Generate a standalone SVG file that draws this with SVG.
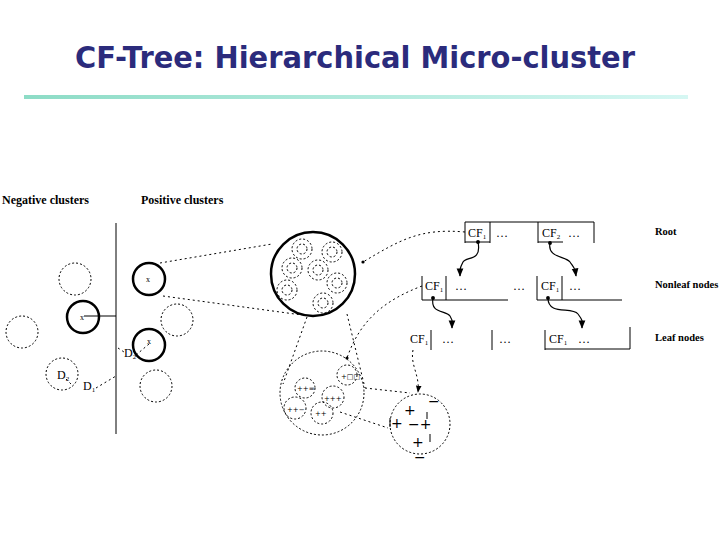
<svg xmlns="http://www.w3.org/2000/svg" width="720" height="540" viewBox="0 0 720 540">
<defs>
<linearGradient id="rule" x1="0" y1="0" x2="1" y2="0">
<stop offset="0" stop-color="#8ddcc6"/>
<stop offset="1" stop-color="#d6f7f3"/>
</linearGradient>
<marker id="ah" viewBox="0 0 10 10" refX="9" refY="5" markerWidth="7" markerHeight="7" orient="auto">
<path d="M0,1 L10,5 L0,9 Z" fill="#000"/>
</marker>
<marker id="dot" viewBox="0 0 10 10" refX="5" refY="5" markerWidth="4" markerHeight="4">
<circle cx="5" cy="5" r="4" fill="#000"/>
</marker>
</defs>
<style>
.title{font-family:"DejaVu Sans",sans-serif;font-weight:bold;font-size:31px;fill:#2b2b7c}
.lbl{font-family:"Liberation Serif",serif;font-weight:bold;font-size:12px;fill:#000}
.rl{font-family:"Liberation Serif",serif;font-weight:bold;font-size:10.5px;fill:#000}
.cf{font-family:"Liberation Serif",serif;font-size:12px;fill:#000}
.sub{font-family:"Liberation Serif",serif;font-size:8px;fill:#000}
.pm{font-family:"DejaVu Sans",sans-serif;font-size:14px;fill:#000}
.spm{font-family:"DejaVu Sans",sans-serif;font-size:7px;fill:#000}
.dc{fill:none;stroke:#000;stroke-width:1;stroke-dasharray:2,2}
.bc{fill:none;stroke:#000;stroke-width:2.5}
.ln{fill:none;stroke:#000;stroke-width:1}
.dl{fill:none;stroke:#000;stroke-width:1;stroke-dasharray:2,3}
.wv{fill:none;stroke:#000;stroke-width:1.2}
</style>
<rect width="720" height="540" fill="#fff"/>
<text class="title" x="355" y="68" text-anchor="middle" textLength="560" lengthAdjust="spacingAndGlyphs">CF-Tree: Hierarchical Micro-cluster</text>
<rect x="24" y="95" width="664" height="4" fill="url(#rule)"/>

<g id="clusters-panel">
<text class="lbl" x="2" y="204">Negative clusters</text>
<text class="lbl" x="141" y="204">Positive clusters</text>
<line class="ln" x1="116" y1="223" x2="116" y2="434"/>
<circle class="dc" cx="75" cy="279" r="16"/>
<circle class="dc" cx="22" cy="332" r="16"/>
<circle class="dc" cx="62" cy="374" r="16"/>
<circle class="bc" cx="83" cy="317" r="16"/>
<text class="sub" x="80" y="320">x</text>
<line class="ln" x1="84" y1="316" x2="116" y2="316"/>
<circle class="bc" cx="149" cy="279" r="16"/>
<text class="sub" x="146" y="282">x</text>
<circle class="bc" cx="149" cy="345" r="16"/>
<text class="sub" x="147" y="344">x</text>
<circle class="dc" cx="177" cy="320" r="16"/>
<circle class="dc" cx="156" cy="386" r="16"/>
<text class="cf" x="57" y="379">D<tspan font-size="7" dy="2">2</tspan></text>
<line class="dl" x1="66" y1="379" x2="72" y2="385"/>
<text class="cf" x="83" y="390">D<tspan font-size="7" dy="2">1</tspan></text>
<line class="dl" x1="96" y1="388" x2="116" y2="376"/>
<text class="cf" x="124" y="357">D<tspan font-size="7" dy="2">2</tspan></text>
<line class="dl" x1="118" y1="348" x2="124" y2="352"/>
<line class="dl" x1="136" y1="355" x2="149" y2="344"/>
</g>

<g id="connectors">
<path class="dl" d="M160,263 L272,244"/>
<path class="dl" d="M163,296 L302,315"/>
<path class="dl" d="M307,317 L283,384"/>
<path class="dl" d="M347,314 L365,388"/>
<path class="dl" d="M465,232 C420,228 400,240 363,262" marker-end="url(#dot)"/>
<path class="dl" d="M422,286 C385,300 360,320 347,358" marker-end="url(#dot)"/>
<path class="dl" d="M365,388 L410,393"/>
<path class="dl" d="M340,412 L388,428"/>
<path class="dl" d="M413,350 C410,365 420,375 418,392" marker-end="url(#ah)"/>
<path class="wv" d="M478,242 C482,262 466,256 463,262 S460,268 460,276" marker-start="url(#dot)" marker-end="url(#ah)"/>
<path class="wv" d="M550,243 C547,258 566,256 570,262 S575,268 576,276" marker-start="url(#dot)" marker-end="url(#ah)"/>
<path class="wv" d="M433,298 C430,314 446,310 450,316 S452,322 452,328" marker-start="url(#dot)" marker-end="url(#ah)"/>
<path class="wv" d="M548,298 C548,316 572,306 578,314 S582,322 582,328" marker-start="url(#dot)" marker-end="url(#ah)"/>
</g>

<g id="big-circle">
<circle class="bc" cx="313" cy="274" r="42"/>
<circle class="dc" cx="302" cy="249" r="10"/><circle class="dc" cx="302" cy="249" r="5"/>
<circle class="dc" cx="332" cy="252" r="10"/><circle class="dc" cx="332" cy="252" r="5"/>
<circle class="dc" cx="292" cy="268" r="10"/><circle class="dc" cx="292" cy="268" r="5"/>
<circle class="dc" cx="318" cy="270" r="10"/><circle class="dc" cx="318" cy="270" r="5"/>
<circle class="dc" cx="337" cy="283" r="10"/><circle class="dc" cx="337" cy="283" r="5"/>
<circle class="dc" cx="287" cy="290" r="10"/><circle class="dc" cx="287" cy="290" r="5"/>
<circle class="dc" cx="323" cy="303" r="10"/><circle class="dc" cx="323" cy="303" r="5"/>
</g>

<g id="medium-circle">
<circle class="dc" cx="322" cy="393" r="42"/>
<circle class="dc" cx="347" cy="375" r="10"/>
<text class="spm" x="341" y="379">+□□</text>
<circle class="dc" cx="305" cy="388" r="10"/>
<text class="spm" x="297" y="391">++=</text>
<circle class="dc" cx="333" cy="397" r="11"/>
<text class="spm" x="324" y="401">+++</text>
<circle class="dc" cx="295" cy="408" r="11"/>
<text class="spm" x="287" y="412">++−</text>
<circle class="dc" cx="322" cy="413" r="11"/>
<text class="spm" x="315" y="416">++</text>
</g>

<g id="small-circle">
<circle class="dc" cx="420" cy="424" r="30"/>
<text class="pm" x="404" y="415">+</text>
<text class="pm" x="428" y="406">−</text>
<text class="pm" x="391" y="428">+</text>
<line class="ln" x1="390" y1="418" x2="390" y2="427"/>
<text class="pm" x="408" y="429">−+</text>
<line class="ln" x1="427" y1="412" x2="427" y2="419"/>
<text class="pm" x="412" y="447">+</text>
<line class="ln" x1="430" y1="434" x2="430" y2="442"/>
<text class="pm" x="414" y="462">−</text>
</g>

<g id="root-node">
<line class="ln" x1="465" y1="222" x2="594" y2="222"/>
<line class="ln" x1="465" y1="222" x2="465" y2="243"/>
<line class="ln" x1="490" y1="222" x2="490" y2="243"/>
<line class="ln" x1="465" y1="242" x2="490" y2="242"/>
<line class="ln" x1="538" y1="222" x2="538" y2="243"/>
<line class="ln" x1="538" y1="242" x2="563" y2="242"/>
<line class="ln" x1="594" y1="222" x2="594" y2="243"/>
<text class="cf" x="468" y="237">CF<tspan font-size="7" dy="2">1</tspan></text>
<text class="cf" x="496" y="237">…</text>
<text class="cf" x="542" y="237">CF<tspan font-size="7" dy="2">2</tspan></text>
<text class="cf" x="568" y="237">…</text>
<text class="rl" x="655" y="235">Root</text>
</g>

<g id="nonleaf-nodes">
<line class="ln" x1="422" y1="276" x2="422" y2="300"/>
<line class="ln" x1="446" y1="276" x2="446" y2="300"/>
<line class="ln" x1="422" y1="300" x2="508" y2="300"/>
<text class="cf" x="425" y="290">CF<tspan font-size="7" dy="2">1</tspan></text>
<text class="cf" x="455" y="290">…</text>
<text class="cf" x="513" y="290">…</text>
<line class="ln" x1="537" y1="276" x2="537" y2="300"/>
<line class="ln" x1="562" y1="276" x2="562" y2="300"/>
<line class="ln" x1="537" y1="300" x2="622" y2="300"/>
<text class="cf" x="541" y="290">CF<tspan font-size="7" dy="2">1</tspan></text>
<text class="cf" x="569" y="290">…</text>
<text class="rl" x="655" y="288">Nonleaf nodes</text>
</g>

<g id="leaf-nodes">
<text class="cf" x="410" y="343">CF<tspan font-size="7" dy="2">1</tspan></text>
<line class="ln" x1="431" y1="330" x2="431" y2="350"/>
<text class="cf" x="442" y="343">…</text>
<line class="ln" x1="492" y1="330" x2="492" y2="350"/>
<text class="cf" x="499" y="343">…</text>
<line class="ln" x1="545" y1="330" x2="545" y2="350"/>
<line class="ln" x1="545" y1="349" x2="630" y2="349"/>
<line class="ln" x1="630" y1="327" x2="630" y2="349"/>
<text class="cf" x="549" y="343">CF<tspan font-size="7" dy="2">1</tspan></text>
<text class="cf" x="578" y="343">…</text>
<text class="rl" x="655" y="341">Leaf nodes</text>
</g>
</svg>
